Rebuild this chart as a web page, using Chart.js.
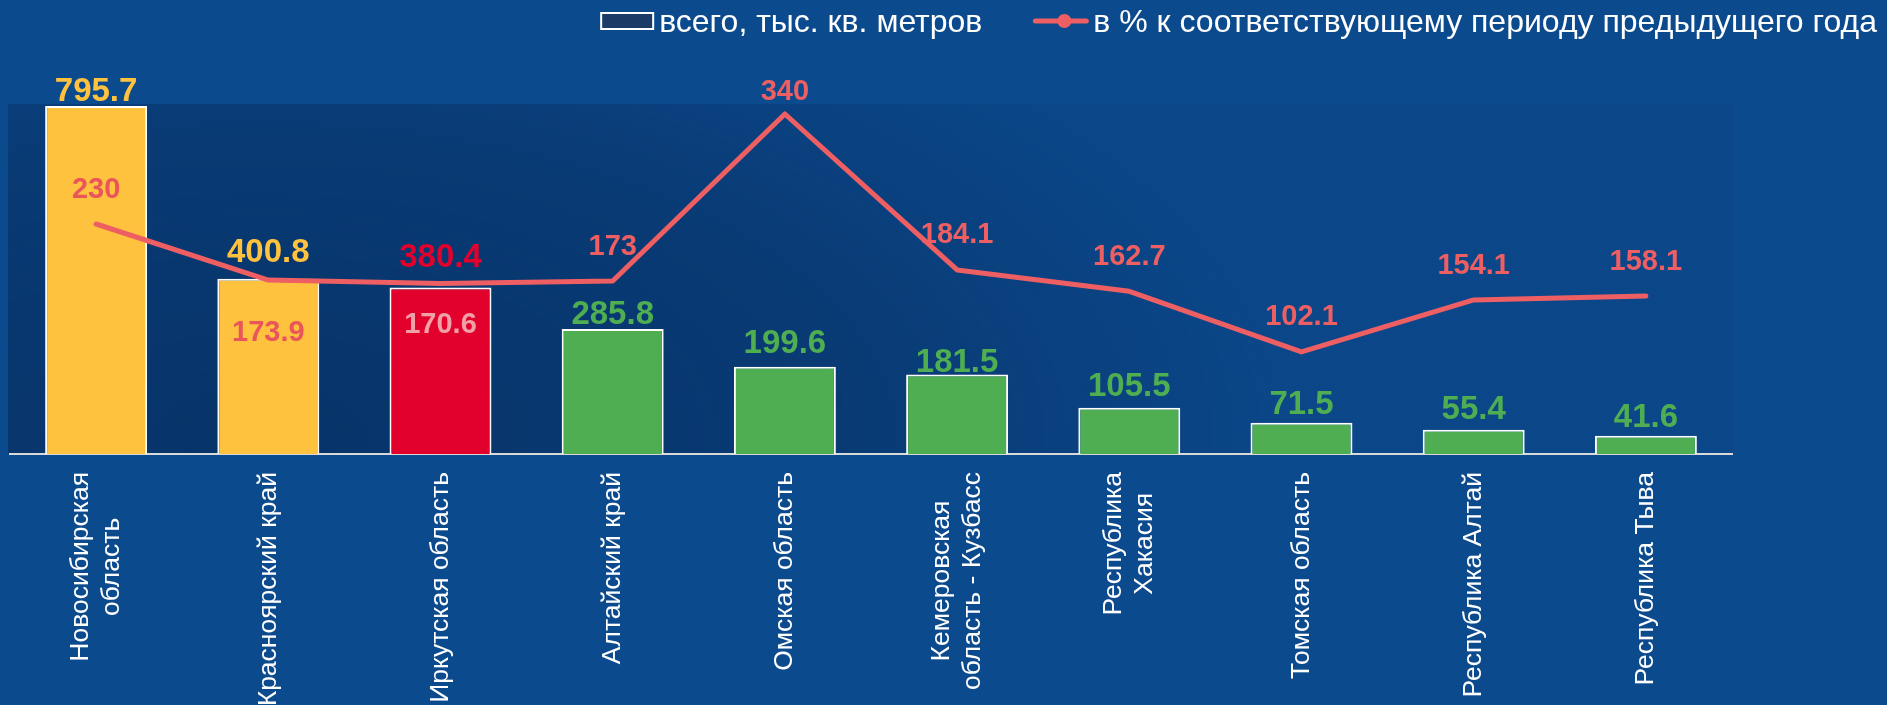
<!DOCTYPE html>
<html>
<head>
<meta charset="utf-8">
<script src="https://cdn.jsdelivr.net/npm/chart.js@4.4.1/dist/chart.umd.min.js"></script>
<style>
  html, body { margin: 0; padding: 0; background: #0c4a8e; }
  #wrap { width: 1887px; height: 705px; }
</style>
</head>
<body>
<div id="wrap"><canvas id="chart" width="1887" height="705"></canvas></div>
<script>
// data
const regionLabels = [
  ["Новосибирская", "область"],
  ["Красноярский край"],
  ["Иркутская область"],
  ["Алтайский край"],
  ["Омская область"],
  ["Кемеровская", "область - Кузбасс"],
  ["Республика", "Хакасия"],
  ["Томская область"],
  ["Республика Алтай"],
  ["Республика Тыва"]
];
const areaTotal = [795.7, 400.8, 380.4, 285.8, 199.6, 181.5, 105.5, 71.5, 55.4, 41.6];
const pctPrevYear = [230, 173.9, 170.6, 173, 340, 184.1, 162.7, 102.1, 154.1, 158.1];
const seriesNames = ["всего, тыс. кв. метров", "в % к соответствующему периоду предыдущего года"];

// styling
const YELLOW = "#ffc23e", RED = "#e2002d", GREEN = "#4fae51", LINE = "#ee5f63";
const barColors = [YELLOW, YELLOW, RED, GREEN, GREEN, GREEN, GREEN, GREEN, GREEN, GREEN];
const barLabelLift = [14, 26, 30, 14, 23, 12, 21, 18, 20, 18];
const lineLabelShift = [-34, 53, 42, -34, -22, -35, -34, -35, -34, -34];
const lineLabelColors = ["#e9555a", "#e9555a", "#f2a0a8", LINE, LINE, LINE, LINE, LINE, LINE, LINE];
const FONT = "'Liberation Sans', Arial, sans-serif";

// darker shading of the plot area
const plotShade = {
  id: "plotShade",
  beforeDraw(chart) {
    const { ctx, chartArea: a } = chart;
    ctx.save();
    ctx.beginPath();
    ctx.rect(a.left - 2, a.top, a.right - a.left + 4, a.bottom - a.top);
    ctx.clip();
    ctx.translate(260, 440);
    ctx.scale(2.0, 1);
    const g = ctx.createRadialGradient(0, 0, 0, 0, 0, 520);
    g.addColorStop(0, "rgba(3,25,60,0.45)");
    g.addColorStop(0.55, "rgba(3,25,60,0.32)");
    g.addColorStop(1, "rgba(3,25,60,0.06)");
    ctx.fillStyle = g;
    ctx.fillRect(-2000, -2000, 4000, 4000);
    ctx.restore();
  }
};

// numbers above bars and line points
const valueLabels = {
  id: "valueLabels",
  afterDatasetsDraw(chart) {
    const ctx = chart.ctx;
    const pts = chart.getDatasetMeta(0).data;
    const bars = chart.getDatasetMeta(1).data;
    ctx.save();
    ctx.textAlign = "center";
    ctx.textBaseline = "middle";
    ctx.font = "bold 33px " + FONT;
    bars.forEach((bar, i) => {
      ctx.fillStyle = barColors[i];
      ctx.fillText(String(areaTotal[i]), bar.x, bar.y - barLabelLift[i]);
    });
    ctx.font = "bold 29px " + FONT;
    pts.forEach((pt, i) => {
      ctx.fillStyle = lineLabelColors[i];
      ctx.fillText(String(pctPrevYear[i]), pt.x, pt.y + lineLabelShift[i]);
    });
    ctx.restore();
  }
};

// vertical category labels, lines centred on each other
const axisLabels = {
  id: "axisLabels",
  afterDraw(chart) {
    const ctx = chart.ctx, xs = chart.scales.x;
    ctx.save();
    ctx.font = "26.5px " + FONT;
    ctx.fillStyle = "#ffffff";
    ctx.textAlign = "center";
    ctx.textBaseline = "middle";
    regionLabels.forEach((lines, i) => {
      const xc = xs.getPixelForValue(i);
      const longest = Math.max(...lines.map(l => ctx.measureText(l).width));
      const yc = xs.top + 18 + longest / 2;
      lines.forEach((line, k) => {
        const x = xc + (k - (lines.length - 1) / 2) * 31;
        ctx.save();
        ctx.translate(x, yc);
        ctx.rotate(-Math.PI / 2);
        ctx.fillText(line, 0, 0);
        ctx.restore();
      });
    });
    ctx.restore();
  }
};

// legend at the top right
const legendBox = {
  id: "legendBox",
  afterDraw(chart) {
    const ctx = chart.ctx;
    const right = 1877, base = 32, midY = 21;
    ctx.save();
    ctx.font = "32px " + FONT;
    ctx.textBaseline = "alphabetic";
    ctx.fillStyle = "#ffffff";
    const t2 = right - ctx.measureText(seriesNames[1]).width;
    ctx.fillText(seriesNames[1], t2, base);
    ctx.strokeStyle = LINE;
    ctx.lineWidth = 5;
    ctx.lineCap = "round";
    ctx.beginPath();
    ctx.moveTo(t2 - 58, midY);
    ctx.lineTo(t2 - 7, midY);
    ctx.stroke();
    ctx.fillStyle = LINE;
    ctx.beginPath();
    ctx.arc(t2 - 29, midY, 7, 0, Math.PI * 2);
    ctx.fill();

    const w1 = ctx.measureText(seriesNames[0]).width;
    const t1 = t2 - 60 - 51 - w1;
    ctx.fillStyle = "#ffffff";
    ctx.fillText(seriesNames[0], t1, base);
    ctx.fillStyle = "#1b3a66";
    ctx.fillRect(t1 - 58, 13, 52, 16);
    ctx.strokeStyle = "#ffffff";
    ctx.lineWidth = 2;
    ctx.strokeRect(t1 - 58, 13, 52, 16);
    ctx.restore();
  }
};

new Chart(document.getElementById("chart"), {
  type: "bar",
  data: {
    labels: regionLabels,
    datasets: [
      {
        type: "line",
        label: seriesNames[1],
        data: pctPrevYear,
        yAxisID: "y1",
        borderColor: LINE,
        borderWidth: 5,
        pointRadius: 0,
        tension: 0,
        borderCapStyle: "round",
        borderJoinStyle: "round",
        order: 0
      },
      {
        type: "bar",
        label: seriesNames[0],
        data: areaTotal,
        yAxisID: "y",
        backgroundColor: barColors,
        borderColor: "#ffffff",
        borderWidth: 2,
        barPercentage: 0.592,
        categoryPercentage: 1,
        order: 1
      }
    ]
  },
  options: {
    responsive: false,
    animation: false,
    layout: { padding: { left: 10, right: 155, top: 104, bottom: 0 } },
    plugins: { legend: { display: false }, tooltip: { enabled: false } },
    scales: {
      x: {
        grid: { display: false },
        border: { color: "#d9d9d9", width: 2 },
        ticks: { display: false },
        afterFit: s => { s.height = 251; }
      },
      y: { display: false, min: 0, max: 800 },
      y1: { display: false, min: 0, max: 350, position: "right" }
    }
  },
  plugins: [plotShade, valueLabels, axisLabels, legendBox]
});
</script>
</body>
</html>
